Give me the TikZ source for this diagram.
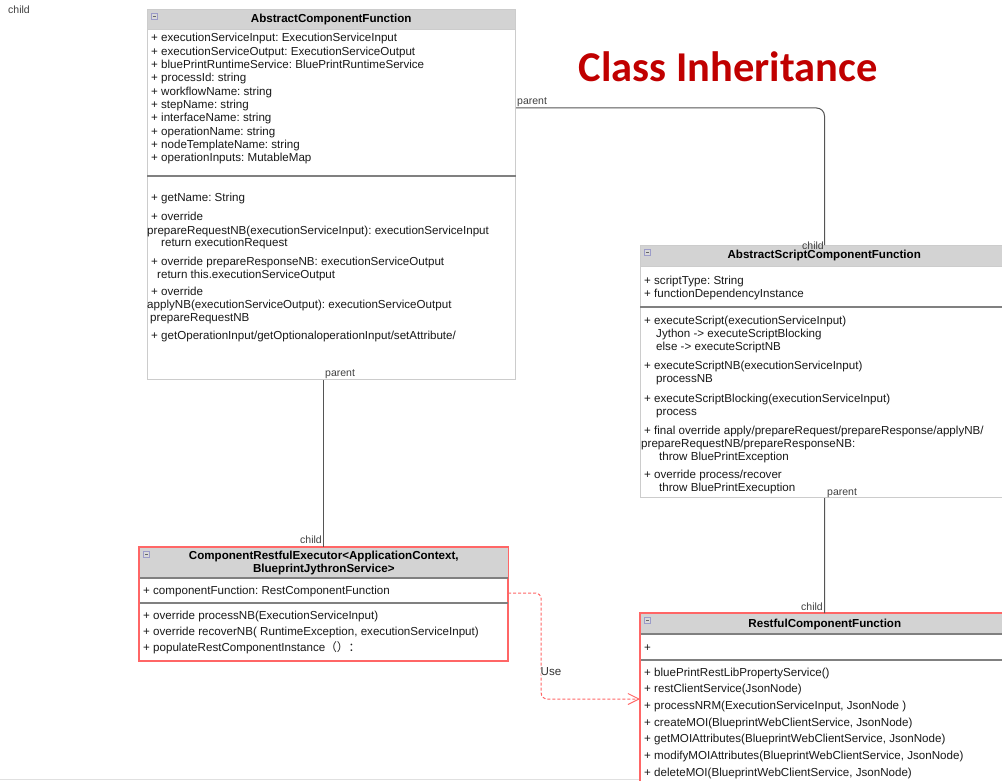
\documentclass[tikz,border=0pt]{standalone}
\usepackage{fontspec}
\setmainfont{Liberation Sans}
\newfontfamily\titlefont{Carlito}
\newfontfamily\cjk{Noto Sans CJK SC}
\usepackage{tikz}
\usetikzlibrary{arrows.meta, positioning}
\frenchspacing
\definecolor{hdrGray}{HTML}{D3D3D3}
\definecolor{boxLine}{HTML}{CCCCCC}
\definecolor{boxRed}{HTML}{FF6666}
\definecolor{sepGray}{HTML}{808080}
\definecolor{linkGray}{HTML}{555555}
\definecolor{titleRed}{HTML}{C00000}
\tikzset{
  classbox/.style={draw=boxLine, fill=white, line width=1pt, anchor=north west, minimum width=368pt},
  redbox/.style={classbox, draw=boxRed, line width=1.2pt},
  classhead/.style={fill=hdrGray, anchor=north west, minimum width=368pt, align=center,
    font=\bfseries\fontsize{11.6}{13}\selectfont},
  divider/.style={draw=sepGray, line width=1.2pt},
  member/.style={anchor=base west, text=black!90, font=\fontsize{11.6}{13}\selectfont},
  lbl/.style={anchor=base west, text=black!75, font=\fontsize{10.5}{12}\selectfont},
  link/.style={draw=linkGray, line width=1pt},
  uselink/.style={draw=boxRed, line width=1pt, dash pattern=on 3pt off 2pt,
    -{Straight Barb[length=11pt, width=11pt]}},
  collapse/.style={draw=gray!70!blue!60, fill=gray!30, line width=0.6pt},
}

\begin{document}
\begin{tikzpicture}[x=1pt, y=-1pt, every node/.style={inner sep=0pt}]
  \clip (0,0) rectangle (1002,781);
  \fill[white] (0,0) rectangle (1002,781);
  \draw[black!12] (0,779.5) -- (1002,779.5);

  \node[anchor=base, text=titleRed, font=\titlefont\bfseries\fontsize{42.5}{50}\selectfont] (title) at (728,82) {Class Inheritance};
  \node[lbl] (orphan) at (8,14) {child};

  % AbstractComponentFunction
  \node[classbox, minimum height=370pt] (acf) at (147,9) {};
  \node[classhead, draw=boxLine, minimum height=20pt] (acfh) at (acf.north west) {AbstractComponentFunction};
  \foreach \t [count=\i from 0] in {+ executionServiceInput: ExecutionServiceInput,
      + executionServiceOutput: ExecutionServiceOutput, + bluePrintRuntimeService: BluePrintRuntimeService,
      + processId: string, + workflowName: string, + stepName: string, + interfaceName: string,
      + operationName: string, + nodeTemplateName: string, + operationInputs: MutableMap}
    \node[member] (acfa\i) at (151,42+13.33*\i) {\t};
  \draw[divider] (acf.west |- 0,176) -- (acf.east |- 0,176);
  \foreach \y/\x/\t in {202/151/{+ getName: String}, 221/151/{+ override},
      234/147/{prepareRequestNB(executionServiceInput): executionServiceInput},
      247/161/{return executionRequest}, 265/151/{+ override prepareResponseNB: executionServiceOutput},
      278/157/{return this.executionServiceOutput}, 295/151/{+ override},
      308/147/{applyNB(executionServiceOutput): executionServiceOutput}, 321/150/{prepareRequestNB},
      339/151/{+ getOperationInput/getOptionaloperationInput/setAttribute/}}
    \node[member] (acfm\y) at (\x,\y) {\t};

  % AbstractScriptComponentFunction
  \node[classbox, minimum height=252pt] (asf) at (640,245) {};
  \node[classhead, draw=boxLine, minimum height=21pt] (asfh) at (asf.north west) {AbstractScriptComponentFunction};
  \node[member] (asfa1) at (644,284) {+ scriptType: String};
  \node[member] (asfa2) at (644,297) {+ functionDependencyInstance};
  \draw[divider] (asf.west |- 0,307) -- (asf.east |- 0,307);
  \foreach \y/\x/\t in {324/644/{+ executeScript(executionServiceInput)},
      337/656/{Jython -> executeScriptBlocking}, 350/656/{else -> executeScriptNB},
      369/644/{+ executeScriptNB(executionServiceInput)}, 382/656/{processNB},
      402/644/{+ executeScriptBlocking(executionServiceInput)}, 415/656/{process},
      434/644/{+ final override apply/prepareRequest/prepareResponse/applyNB/},
      447/641/{prepareRequestNB/prepareResponseNB:}, 460/659/{throw BluePrintException},
      478/644/{+ override process/recover}, 491/659/{throw BluePrintExecuption}}
    \node[member] (asfm\y) at (\x,\y) {\t};

  % ComponentRestfulExecutor
  \node[redbox, minimum height=113pt] (cre) at (139,547) {};
  \node[classhead, minimum height=31pt] (creh) at ([shift={(0.6,0.6)}]cre.north west)
    {ComponentRestfulExecutor<ApplicationContext,\\BlueprintJythronService>};
  \draw[divider] (cre.west |- 0,578) -- (cre.east |- 0,578);
  \node[member] (crea1) at (143,594) {+ componentFunction: RestComponentFunction};
  \draw[divider] (cre.west |- 0,603) -- (cre.east |- 0,603);
  \node[member] (crem1) at (143,619) {+ override processNB(ExecutionServiceInput)};
  \node[member] (crem2) at (143,635) {+ override recoverNB( RuntimeException, executionServiceInput)};
  \node[member] (crem3) at (143,651) {+ populateRestComponentInstance{\cjk （）：}};
  \draw[boxRed, line width=1.2pt] (cre.north west) rectangle (cre.south east);

  % RestfulComponentFunction
  \node[redbox, minimum height=200pt] (rcf) at (640,613) {};
  \node[classhead, minimum height=21pt] (rcfh) at ([shift={(0.6,0.6)}]rcf.north west) {RestfulComponentFunction};
  \draw[divider] (rcf.west |- 0,634) -- (rcf.east |- 0,634);
  \node[member] (rcfa1) at (644,651) {+};
  \draw[divider] (rcf.west |- 0,660) -- (rcf.east |- 0,660);
  \foreach \t [count=\i from 0] in {+ bluePrintRestLibPropertyService(), + restClientService(JsonNode),
      {+ processNRM(ExecutionServiceInput, JsonNode )}, {+ createMOI(BlueprintWebClientService, JsonNode)},
      {+ getMOIAttributes(BlueprintWebClientService, JsonNode)},
      {+ modifyMOIAttributes(BlueprintWebClientService, JsonNode)},
      {+ deleteMOI(BlueprintWebClientService, JsonNode)}}
    \node[member] (rcfm\i) at (644,676+16.67*\i) {\t};
  \draw[boxRed, line width=1.2pt] (rcf.north west) rectangle (rcf.south east);

  % collapse icons
  \foreach \h in {acfh, asfh, creh, rcfh} {
    \draw[collapse] ([shift={(4,4)}]\h.north west) rectangle ++(6,6);
    \draw[black!60, line width=0.6pt] ([shift={(5.5,7)}]\h.north west) -- ++(3,0);
  }

  % inheritance links
  \draw[link, rounded corners=8pt] ([yshift=-99pt]acf.north east) -| (asf.north);
  \draw[link] (cre.north |- acf.south) -- (cre.north);
  \draw[link] (asf.south) -- (rcf.north);
  \draw[uselink, rounded corners=6pt] ([yshift=-46pt]cre.north east) -- ++(33,0)
    |- node[pos=0.37, anchor=west, xshift=-2pt, fill=white, inner sep=1pt, text=black!80,
      font=\fontsize{11.6}{13}\selectfont] (uselbl) {Use} ([yshift=-86pt]rcf.north west);

  \node[lbl] (par1) at (517,105) {parent};
  \node[lbl] (chd1) at (802,249) {child};
  \node[lbl] (par2) at (325,376) {parent};
  \node[lbl] (chd2) at (300,543) {child};
  \node[lbl] (par3) at (827,495) {parent};
  \node[lbl] (chd3) at (801,610) {child};
\end{tikzpicture}
\end{document}
